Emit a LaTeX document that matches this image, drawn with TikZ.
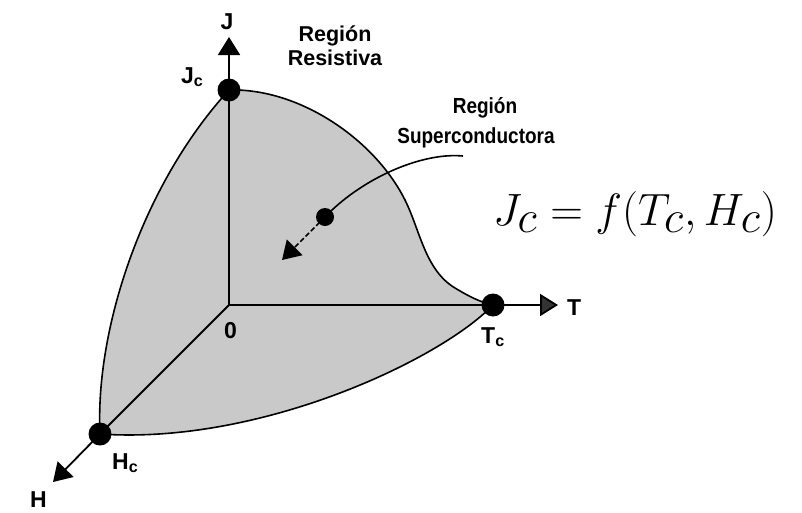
\documentclass[tikz,border=0pt]{standalone}
\usepackage{fontspec}
\setsansfont{Liberation Sans}
\usetikzlibrary{arrows.meta}
\tikzset{
  lblA/.style={font=\sffamily\bfseries\fontsize{21.5}{24}\selectfont, inner sep=0pt, anchor=base},
  lblB/.style={font=\sffamily\bfseries\fontsize{19}{22}\selectfont, inner sep=0pt, anchor=base, yscale=1.15},
  axlbl/.style={font=\sffamily\bfseries\fontsize{23}{25}\selectfont, inner sep=0pt, anchor=base west},
  ax/.style={line width=1.8pt},
  bnd/.style={line width=1.6pt},
  dotpt/.style={circle, fill=black, minimum size=23pt, inner sep=0pt},
  tri/.style={-{Triangle[length=18pt,width=22pt]}},
}
\begin{document}
\begin{tikzpicture}[x=1pt,y=-1pt]
\useasboundingbox (0,0) rectangle (802,512);
\coordinate (O) at (229,305);
\coordinate (Jc) at (229,90);
\coordinate (Tc) at (493,305);
\coordinate (Hc) at (100,434);
\coordinate (Jtip) at (229,37);
\coordinate (Ttip) at (558,305);
\coordinate (Htip) at (53,482);
% region
\fill[gray!42] (Jc) .. controls (300,88) and (375,140) .. (405,200)
  .. controls (420,230) and (425,270) .. (455,288)
  .. controls (470,297) and (480,302) .. (Tc)
  .. controls (440,360) and (260,445) .. (Hc)
  .. controls (95,330) and (142,185) .. (Jc) -- cycle;
\draw[bnd] (Jc) .. controls (300,88) and (375,140) .. (405,200)
  .. controls (420,230) and (425,270) .. (455,288)
  .. controls (470,297) and (480,302) .. (Tc);
\draw[bnd] (Tc) .. controls (440,360) and (260,445) .. (Hc);
\draw[bnd] (Hc) .. controls (95,330) and (142,185) .. (Jc);
% axes
\draw[ax] (O) -- (Jc);
\draw[ax] (O) -- (Tc);
\draw[ax] (O) -- (Hc);
\draw[ax,tri] (Jc) -- (Jtip);
\draw[ax,-{Triangle[length=18pt,width=22pt,fill=black!80]}] (Tc) -- (Ttip);
\draw[ax,tri] (Hc) -- (Htip);
% dots
\node[dotpt] (JcDot) at (Jc) {};
\node[dotpt] (TcDot) at (Tc) {};
\node[dotpt] (HcDot) at (Hc) {};
% superconductor arrow
\coordinate (Sstart) at (463,156);
\node[circle, fill=black, minimum size=18pt, inner sep=0pt] (Sdot) at (325,217) {};
\coordinate (Stip) at (282,260);
\draw[bnd] (Sstart) .. controls (420,152) and (360,180) .. (Sdot.center);
\draw[bnd, dash pattern=on 5pt off 2.5pt, tri] (Sdot.center) -- (Stip);
% labels
\node[axlbl, anchor=base] (Jl) at (227,29) {J};
\node[axlbl] (Tl) at (567,315) {T};
\node[axlbl] (Hl) at (30,507) {H};
\node[axlbl] (Zl) at (224,338) {0};
\node[axlbl] (Jcl) at (181,83) {J\textsubscript{c}};
\node[axlbl] (Tcl) at (481,343) {T\textsubscript{c}};
\node[axlbl] (Hcl) at (112,469) {H\textsubscript{c}};
\node[lblA] (RR1) at (335,41) {Región};
\node[lblA] (RR2) at (335,65) {Resistiva};
\node[lblB] (RS1) at (485,113) {Región};
\node[lblB] (RS2) at (476,143) {Superconductora};
\node[inner sep=0pt, font=\fontsize{42}{46}\selectfont, scale=1.82] (F) at (635,214) {$J_c = f(T_c, H_c)$};
\end{tikzpicture}
\end{document}
